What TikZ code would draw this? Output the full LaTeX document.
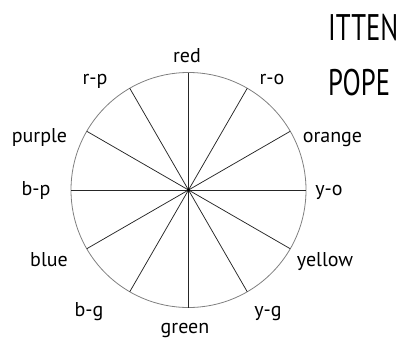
\documentclass[tikz,border=0pt]{standalone}
\usepackage{fontspec}
\setmainfont{PT Sans}
\begin{document}
\begin{tikzpicture}[x=1pt,y=-1pt,font=\fontsize{20}{24}\selectfont]
  \useasboundingbox (0,0) rectangle (401,340);
  \tikzset{hue/.style={anchor=base,inner sep=0pt}}
  \coordinate (c) at (188.5,190);
  \draw[black!50,line width=0.8pt] (c) circle (117.5);
  \foreach \a in {0,30,...,330}{\draw[black!85,line width=0.75pt] (c) -- +(\a:117.5);}
  \fill (c) circle (1.6);
  \node[hue] (red) at (187,62) {red};
  \node[hue] (ro) at (272,84) {r-o};
  \node[hue] (orange) at (332.5,142) {orange};
  \node[hue] (yo) at (329,195) {y-o};
  \node[hue] (yellow) at (325,266) {yellow};
  \node[hue] (yg) at (268,316) {y-g};
  \node[hue] (green) at (185,333) {green};
  \node[hue] (bg) at (89,316) {b-g};
  \node[hue] (blue) at (49,266) {blue};
  \node[hue] (bp) at (36,195) {b-p};
  \node[hue] (purple) at (39.5,142) {purple};
  \node[hue] (rp) at (95,84) {r-p};
  \node[anchor=base west,inner sep=0pt,font=\fontsize{37}{40}\selectfont] (itten) at (328,40) {\scalebox{0.72}[1]{ITTEN}};
  \node[anchor=base west,inner sep=0pt,font=\fontsize{37}{40}\selectfont] (pope) at (328,95) {\scalebox{0.72}[1]{POPE}};
\end{tikzpicture}
\end{document}
